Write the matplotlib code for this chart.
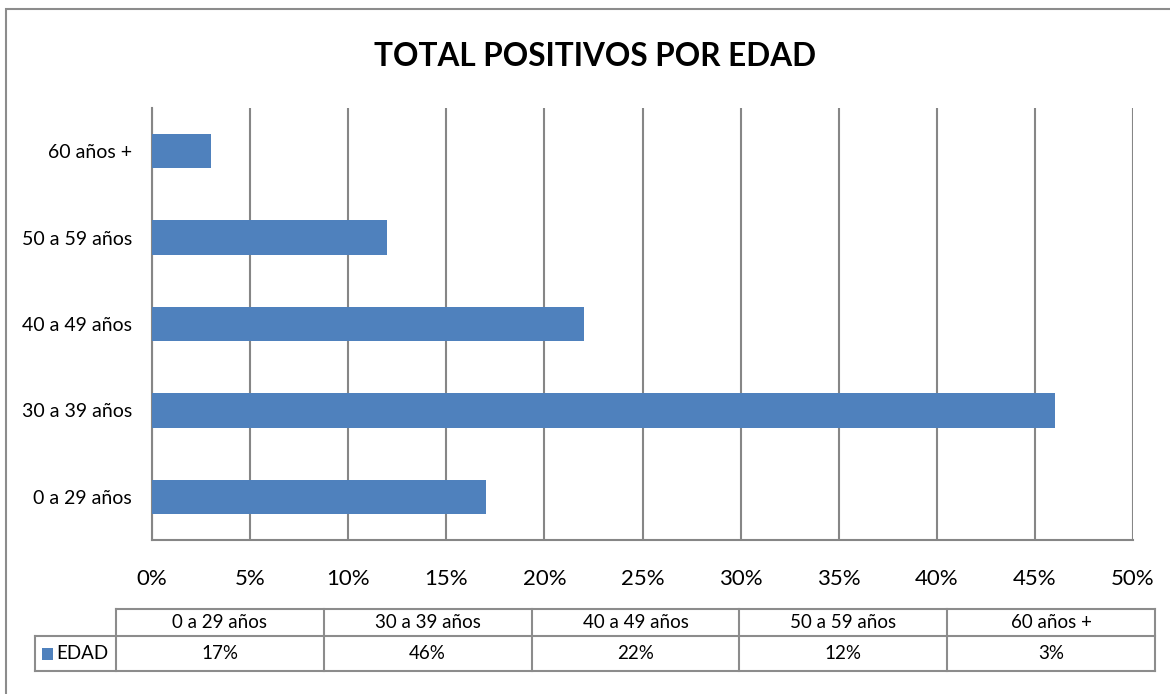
import matplotlib
matplotlib.use("Agg")
import matplotlib.pyplot as plt
from matplotlib.patches import Rectangle
from matplotlib.lines import Line2D
from matplotlib.ticker import FuncFormatter, MultipleLocator

categories = ["0 a 29 años", "30 a 39 años", "40 a 49 años", "50 a 59 años", "60 años +"]
values = [17, 46, 22, 12, 3]
series_name = "EDAD"
title = "TOTAL POSITIVOS POR EDAD"

BAR = "#4F81BD"
GRID = "#868686"
FONT = "Lato"

W, H = 1170, 694
fig = plt.figure(figsize=(W / 100, H / 100), dpi=100)
fig.patch.set_facecolor("white")

def fx(px):
    return px / W

def fy(py):
    return 1 - py / H

# outer chart border
fig.add_artist(Rectangle((fx(6), fy(1000)), fx(1300), fy(9) - fy(1000), transform=fig.transFigure,
                         fill=False, edgecolor="#8c8c8c", linewidth=1.5))

ax = fig.add_axes([fx(152), fy(540), fx(1133) - fx(152), fy(108) - fy(540)])
y = list(range(len(categories)))
ax.barh(y, values, height=0.4, color=BAR, zorder=3)
ax.set_xlim(0, 50)
ax.set_ylim(-0.5, len(categories) - 0.5)
ax.xaxis.set_major_locator(MultipleLocator(5))
ax.xaxis.set_major_formatter(FuncFormatter(lambda v, p: f"{v:.0f}%"))
ax.set_yticks(y)
ax.set_yticklabels(categories, fontsize=14, family=FONT)
ax.grid(axis="x", color=GRID, linewidth=1.5, zorder=0)
for s in ["top", "right"]:
    ax.spines[s].set_visible(False)
ax.spines["left"].set_color(GRID)
ax.spines["left"].set_linewidth(1.5)
ax.spines["bottom"].set_color(GRID)
ax.spines["bottom"].set_linewidth(1.5)
ax.tick_params(axis="both", length=0)
ax.tick_params(axis="y", pad=14.4)
ax.tick_params(axis="x", pad=21, labelsize=16)
for lab in ax.get_xticklabels():
    lab.set_family(FONT)

fig.text(fx(595), fy(56), title, ha="center", va="center", fontsize=22.7,
         fontweight="bold", family=FONT)

# data table
cols = [116 + i * 207.8 for i in range(len(categories) + 1)]
top, mid, bot = 609, 636, 671
legend_left = 35
lw = 1.5
lc = "#8c8c8c"
def hline(x0, x1, yy):
    fig.add_artist(Line2D([fx(x0), fx(x1)], [fy(yy), fy(yy)], transform=fig.transFigure,
                          color=lc, linewidth=lw))
def vline(xx, y0, y1):
    fig.add_artist(Line2D([fx(xx), fx(xx)], [fy(y0), fy(y1)], transform=fig.transFigure,
                          color=lc, linewidth=lw))
hline(cols[0], cols[-1], top)
hline(legend_left, cols[-1], mid)
hline(legend_left, cols[-1], bot)
vline(legend_left, mid, bot)
for c in cols:
    vline(c, top, bot)
TFS = 13.5
for i, (cat, v) in enumerate(zip(categories, values)):
    cx = (cols[i] + cols[i + 1]) / 2
    fig.text(fx(cx), fy((top + mid) / 2), cat, ha="center", va="center", fontsize=TFS, family=FONT)
    fig.text(fx(cx), fy((mid + bot) / 2), f"{v}%", ha="center", va="center", fontsize=TFS, family=FONT)
fig.add_artist(Rectangle((fx(42), fy(660)), fx(11), fy(648) - fy(660), transform=fig.transFigure,
                         facecolor=BAR, edgecolor="none"))
fig.text(fx(56), fy((mid + bot) / 2), series_name, ha="left", va="center", fontsize=TFS, family=FONT)

fig.savefig("out.png", dpi=100)
